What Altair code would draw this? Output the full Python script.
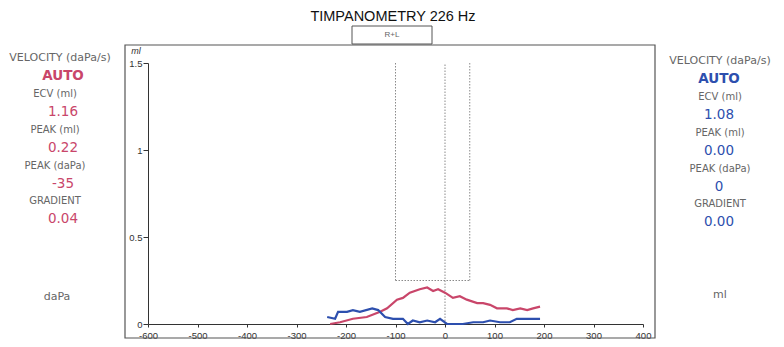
import altair as alt
import pandas as pd

# ---- data ----
red_x = [-232, -212, -186, -158, -131, -117, -97, -85, -71, -51, -36, -24, -14, 0, 16, 30, 44, 65, 77, 91, 105, 125, 137, 152, 166, 178, 192]
red_y = [0.00, 0.01, 0.03, 0.04, 0.07, 0.09, 0.14, 0.15, 0.18, 0.20, 0.21, 0.19, 0.20, 0.18, 0.15, 0.16, 0.14, 0.12, 0.12, 0.11, 0.09, 0.09, 0.08, 0.09, 0.08, 0.09, 0.10]
blue_x = [-238, -222, -216, -198, -186, -172, -147, -135, -121, -105, -85, -75, -65, -51, -36, -20, -10, 4, 16, 36, 57, 77, 91, 111, 131, 145, 158, 192]
blue_y = [0.04, 0.03, 0.07, 0.07, 0.08, 0.07, 0.09, 0.08, 0.04, 0.03, 0.03, 0.00, 0.02, 0.01, 0.02, 0.01, 0.03, 0.00, 0.00, 0.00, 0.01, 0.01, 0.02, 0.01, 0.01, 0.03, 0.03, 0.03]

box_x = [-100, 50]          # normal-range box (daPa)
box_y = [0.25, 1.5]         # normal-range box (ml)
zero_line_x = 0

x_ticks = [-600, -500, -400, -300, -200, -100, 0, 100, 200, 300, 400]
y_ticks = [0, 0.5, 1, 1.5]

title_text = "TIMPANOMETRY 226 Hz"
mode_text = "R+L"
left_labels = ["VELOCITY (daPa/s)", "ECV (ml)", "PEAK (ml)", "PEAK (daPa)", "GRADIENT"]
left_values = ["AUTO", "1.16", "0.22", "-35", "0.04"]
right_labels = ["VELOCITY (daPa/s)", "ECV (ml)", "PEAK (ml)", "PEAK (daPa)", "GRADIENT"]
right_values = ["AUTO", "1.08", "0.00", "0", "0.00"]
left_unit = "daPa"
right_unit = "ml"
axis_unit = "ml"

# ---- styles ----
RED = "#c9466a"
BLUE = "#2d4fae"
GRAY = "#555555"
W, H = 495, 261
OX, OY = 148, 63  # plot origin in page pixels

xs = alt.Scale(domain=[-600, 400], nice=False, zero=False)
ys = alt.Scale(domain=[0, 1.5], nice=False, zero=False)

red_df = pd.DataFrame({"p": red_x, "v": red_y})
blue_df = pd.DataFrame({"p": blue_x, "v": blue_y})

segs = pd.DataFrame({
    "x": [box_x[0], box_x[1], box_x[0], zero_line_x],
    "x2": [box_x[0], box_x[1], box_x[1], zero_line_x],
    "y": [box_y[0], box_y[0], box_y[0], 0],
    "y2": [box_y[1], box_y[1], box_y[0], box_y[1]],
})

xaxis = alt.Axis(values=x_ticks, grid=False, title=None, domainColor="#333", tickColor="#333",
                 labelColor="#333", labelFontSize=9.5, labelFont="Liberation Sans", tickSize=3,
                 labelPadding=3, labelFlush=False, labelExpr="'' + datum.value")
yaxis = alt.Axis(values=y_ticks, grid=False, title=None, domainColor="#333", tickColor="#333",
                 labelColor="#333", labelFontSize=9.5, labelFont="Liberation Sans", tickSize=5,
                 labelPadding=1, labelExpr="'' + datum.value")

base_axes = alt.Chart(red_df).mark_line(color=RED, strokeWidth=2.2).encode(
    x=alt.X("p:Q", scale=xs, axis=xaxis),
    y=alt.Y("v:Q", scale=ys, axis=yaxis),
)
blue_line = alt.Chart(blue_df).mark_line(color=BLUE, strokeWidth=2.2).encode(
    x=alt.X("p:Q", scale=xs), y=alt.Y("v:Q", scale=ys))

guides = alt.Chart(segs).mark_rule(color="#8a8a8a", strokeWidth=1, strokeDash=[1.5, 1.5]).encode(
    x=alt.X("x:Q", scale=xs), x2="x2:Q", y=alt.Y("y:Q", scale=ys), y2="y2:Q")

one = pd.DataFrame({"a": [0]})


def box(x1, y1, x2, y2, width=1.2):
    return alt.Chart(one).mark_rect(fillOpacity=0, stroke=GRAY, strokeWidth=width).encode(
        x=alt.value(x1 - OX), x2=alt.value(x2 - OX), y=alt.value(y1 - OY), y2=alt.value(y2 - OY))


def txt(t, x, y, size, color, weight="normal", font="DejaVu Sans", style="normal"):
    return alt.Chart(one).mark_text(text=t, fontSize=size, color=color, fontWeight=weight,
                                    font=font, fontStyle=style, align="center",
                                    baseline="middle").encode(
        x=alt.value(x - OX), y=alt.value(y - OY))


layers = [box(125, 45, 655, 338), box(352, 26, 432, 44, 1.0), guides, base_axes, blue_line]
layers.append(txt(title_text, 393, 17, 14.5, "#111111", font="Liberation Sans"))
layers.append(txt(mode_text, 392, 35, 8, "#666666", font="Liberation Sans"))
layers.append(txt(axis_unit, 136, 51, 9, "#333333", font="Liberation Sans", style="italic"))

label_y = [58, 94, 130, 166, 201]
value_y = [76, 112, 148, 184, 219]
for i, t in enumerate(left_labels):
    if i == 0:
        layers.append(txt(t, 60, label_y[i], 11, "#666666"))
    else:
        layers.append(txt(t, 55, label_y[i], 10, "#666666"))
for i, t in enumerate(left_values):
    layers.append(txt(t, 63, value_y[i], 13.5, RED, weight="bold" if i == 0 else "normal"))
for i, t in enumerate(right_labels):
    if i == 0:
        layers.append(txt(t, 720, label_y[i] + 3, 11, "#666666"))
    else:
        layers.append(txt(t, 720, label_y[i] + 3, 10, "#666666"))
for i, t in enumerate(right_values):
    layers.append(txt(t, 719, value_y[i] + 3, 13.5, BLUE, weight="bold" if i == 0 else "normal"))
layers.append(txt(left_unit, 57, 297, 11, "#666666"))
layers.append(txt(right_unit, 720, 295, 11, "#666666"))

chart = alt.layer(*layers).properties(
    width=W, height=H,
    padding={"left": OX - 8, "top": OY - 8, "right": 768 - (OX - 8) - W, "bottom": 331 - (OY - 8) - H},
    autosize=alt.AutoSizeParams(type="none"),
    background="white",
).configure_view(strokeWidth=0)

chart.save("out.html", embed_options={"renderer": "svg", "actions": False})
